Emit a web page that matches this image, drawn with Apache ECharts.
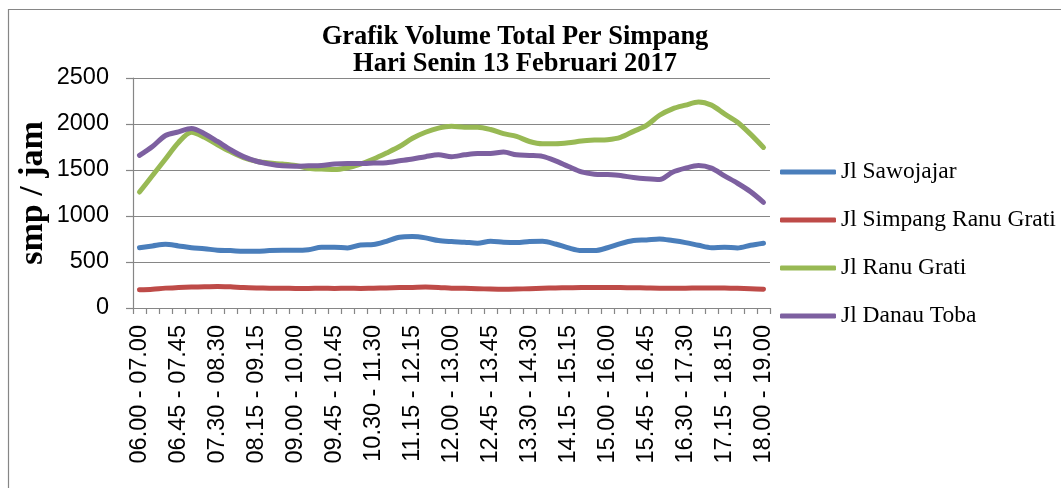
<!DOCTYPE html>
<html>
<head>
<meta charset="utf-8">
<script src="https://cdn.jsdelivr.net/npm/echarts@6/dist/echarts.min.js"></script>
<style>
    html, body { margin: 0; padding: 0; background: #fff; }
    #chart { width: 1061px; height: 488px; }
</style>
</head>
<body>
<div id="chart"></div>
<script>
    // interval waktu 15 menit
    const categories = [
        '06.00 - 07.00', '06.15 - 07.15', '06.30 - 07.30', '06.45 - 07.45', '07.00 - 08.00',
        '07.15 - 08.15', '07.30 - 08.30', '07.45 - 08.45', '08.00 - 09.00', '08.15 - 09.15',
        '08.30 - 09.30', '08.45 - 09.45', '09.00 - 10.00', '09.15 - 10.15', '09.30 - 10.30',
        '09.45 - 10.45', '10.00 - 11.00', '10.15 - 11.15', '10.30 - 11.30', '10.45 - 11.45',
        '11.00 - 12.00', '11.15 - 12.15', '11.30 - 12.30', '11.45 - 12.45', '12.00 - 13.00',
        '12.15 - 13.15', '12.30 - 13.30', '12.45 - 13.45', '13.00 - 14.00', '13.15 - 14.15',
        '13.30 - 14.30', '13.45 - 14.45', '14.00 - 15.00', '14.15 - 15.15', '14.30 - 15.30',
        '14.45 - 15.45', '15.00 - 16.00', '15.15 - 16.15', '15.30 - 16.30', '15.45 - 16.45',
        '16.00 - 17.00', '16.15 - 17.15', '16.30 - 17.30', '16.45 - 17.45', '17.00 - 18.00',
        '17.15 - 18.15', '17.30 - 18.30', '17.45 - 18.45', '18.00 - 19.00'
    ]
    const sawojajar = [
        656, 675, 693, 675, 656, 645, 627, 624, 616, 616,
        624, 627, 627, 634, 660, 660, 653, 685, 689, 725,
        769, 776, 762, 733, 722, 715, 705, 725, 715, 711,
        722, 725, 696, 653, 624, 624, 655, 700, 733, 740,
        751, 733, 711, 682, 656, 660, 653, 682, 704
    ]
    const simpangRanuGrati = [
        198, 205, 216, 222, 227, 230, 235, 230, 222, 218,
        216, 214, 213, 213, 214, 213, 214, 213, 216, 218,
        222, 224, 227, 224, 216, 214, 210, 206, 204, 206,
        210, 214, 218, 220, 222, 222, 224, 222, 220, 218,
        216, 216, 216, 218, 218, 218, 214, 210, 204
    ]
    const ranuGrati = [
        1260, 1440, 1620, 1800, 1910, 1855, 1775, 1700, 1635, 1595,
        1575, 1565, 1550, 1520, 1510, 1505, 1525, 1565, 1620, 1685,
        1755, 1845, 1910, 1955, 1975, 1965, 1965, 1940, 1895, 1865,
        1810, 1785, 1785, 1795, 1815, 1825, 1830, 1855, 1920, 1985,
        2095, 2165, 2205, 2240, 2205, 2110, 2020, 1890, 1745
    ]
    const danauToba = [
        1658, 1755, 1875, 1915, 1950, 1895, 1810, 1720, 1645, 1595,
        1565, 1545, 1540, 1545, 1550, 1565, 1570, 1570, 1575, 1580,
        1600, 1620, 1645, 1665, 1645, 1665, 1680, 1680, 1695, 1665,
        1658, 1648, 1600, 1538, 1480, 1455, 1450, 1440, 1418, 1404,
        1396, 1476, 1520, 1549, 1520, 1436, 1356, 1265, 1149
    ]
    const yTicks = [0, 500, 1000, 1500, 2000, 2500]

    const serif = '"Liberation Serif", "Times New Roman", serif'
    const sans = '"Liberation Sans", Arial, sans-serif'

    function makeSeries(name, data, color) {
        return {
            name: name,
            type: 'line',
            data: data,
            smooth: 0.3,
            symbol: 'none',
            lineStyle: {width: 5, color: color, cap: 'round', join: 'round'},
            itemStyle: {color: color}
        }
    }

    const chart = echarts.init(document.getElementById('chart'), null, {renderer: 'canvas'})
    chart.setOption({
        animation: false,
        backgroundColor: '#fff',
        graphic: [{
            type: 'rect',
            shape: {x: 8.5, y: 9.5, width: 1100, height: 520},
            style: {fill: 'none', stroke: '#868686', lineWidth: 1.2},
            silent: true
        }],
        title: {
            text: 'Grafik Volume Total Per Simpang\nHari Senin 13 Februari 2017',
            left: 510,
            textAlign: 'center',
            top: 19,
            textStyle: {
                fontFamily: serif,
                fontWeight: 'bold',
                fontSize: 26.5,
                lineHeight: 27,
                color: '#000'
            }
        },
        legend: {
            orient: 'vertical',
            left: 775,
            top: 155,
            itemWidth: 56,
            itemHeight: 5,
            itemGap: 24,
            icon: 'roundRect',
            textStyle: {fontFamily: serif, fontSize: 23.5, color: '#000'},
            data: ['Jl Sawojajar', 'Jl Simpang Ranu Grati', 'Jl Ranu Grati', 'Jl Danau Toba']
        },
        grid: {left: 133, right: 291, top: 78, height: 230, containLabel: false, outerBoundsMode: 'none'},
        xAxis: {
            type: 'category',
            data: categories,
            boundaryGap: true,
            axisLine: {lineStyle: {color: '#868686', width: 1.2}},
            axisTick: {show: true, interval: 0, length: 6, lineStyle: {color: '#868686', width: 1.2}},
            axisLabel: {
                interval: 2,
                rotate: 90,
                margin: 17,
                fontFamily: sans,
                fontSize: 23.5,
                color: '#000'
            },
            splitLine: {show: false}
        },
        yAxis: {
            type: 'value',
            min: yTicks[0],
            max: yTicks[yTicks.length - 1],
            interval: 500,
            name: 'smp / jam',
            nameLocation: 'middle',
            nameGap: 83,
            nameMoveOverlap: false,
            nameTextStyle: {fontFamily: serif, fontWeight: 'bold', fontSize: 34, color: '#000'},
            axisLine: {show: true, lineStyle: {color: '#868686', width: 1.2}},
            axisTick: {show: true, length: 7, inside: false, lineStyle: {color: '#868686', width: 1.2}},
            axisLabel: {
                margin: 24,
                fontFamily: sans,
                fontSize: 23.5,
                color: '#000',
                formatter: function (v) { return String(v) }
            },
            splitLine: {show: true, lineStyle: {color: '#868686', width: 1.2}}
        },
        series: [
            makeSeries('Jl Sawojajar', sawojajar, '#4a7ebb'),
            makeSeries('Jl Simpang Ranu Grati', simpangRanuGrati, '#be4b48'),
            makeSeries('Jl Ranu Grati', ranuGrati, '#98b954'),
            makeSeries('Jl Danau Toba', danauToba, '#7d60a0')
        ]
    })
</script>
</body>
</html>
